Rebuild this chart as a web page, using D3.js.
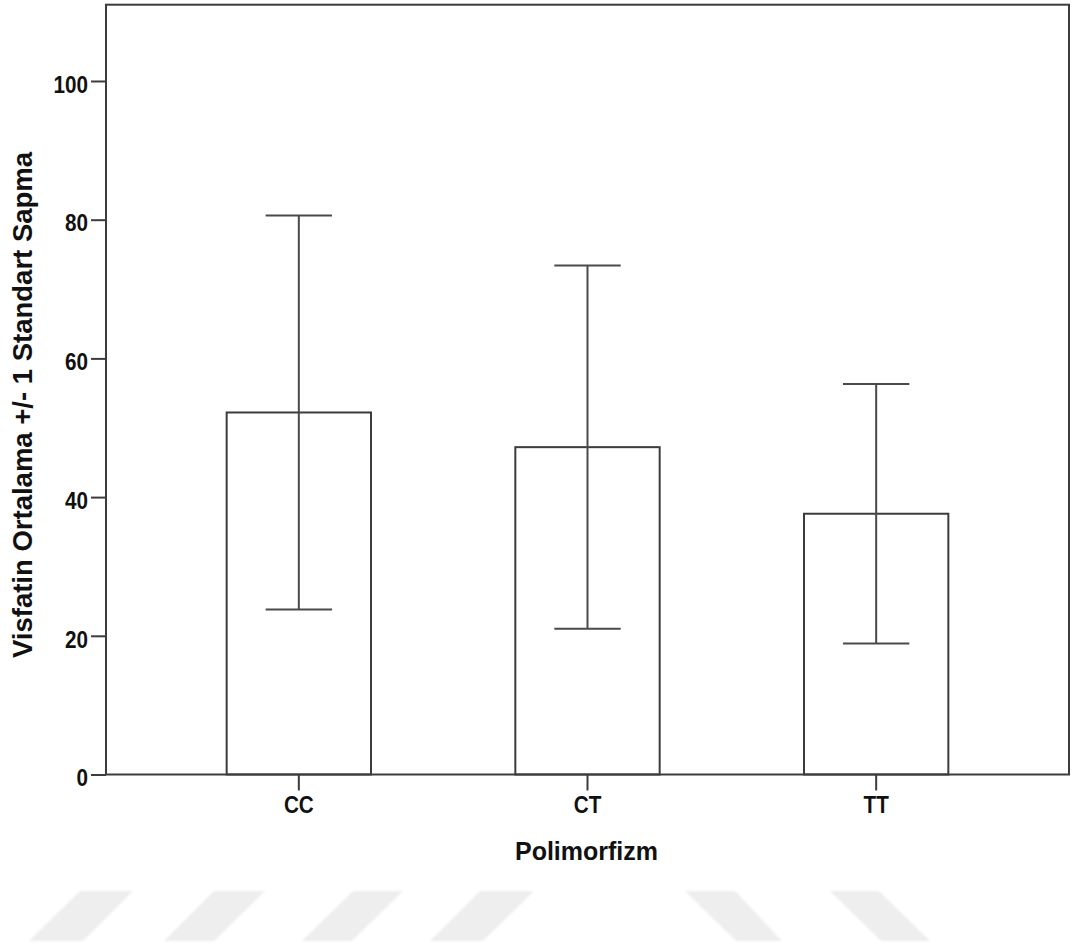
<!DOCTYPE html>
<html>
<head>
<meta charset="utf-8">
<script src="https://cdn.jsdelivr.net/npm/d3@7"></script>
<style>
  html, body { margin: 0; padding: 0; background: #fff; }
  svg { display: block; }
  .tick-num { font-family: "Liberation Sans", Arial, sans-serif; font-weight: bold; font-size: 23.5px; fill: #111; }
  .axis-title { font-family: "Liberation Sans", Arial, sans-serif; font-weight: bold; fill: #111; }
</style>
</head>
<body>
<svg id="chart" width="1074" height="950"></svg>
<script>
// Genotype groups and visfatin summary statistics (mean and one standard deviation)
const categories = ["CC", "CT", "TT"];
const means = [52.2, 47.2, 37.6];
const stdDevs = [28.4, 26.2, 18.7];
const yTicks = [0, 20, 40, 60, 80, 100];

const svg = d3.select("#chart");

// Plot frame
const frame = { left: 106, right: 1069, top: 4.7, bottom: 774.5 };

const x = d3.scaleBand()
  .domain(categories)
  .range([frame.left, frame.right])
  .paddingInner(0.5)
  .paddingOuter(0.418);

const y = d3.scaleLinear()
  .domain([0, 111])
  .range([frame.bottom, frame.top]);

const stroke = "#3c3c3c";
const squeeze = 0.88; // condensed look for tick labels

// Decorative stripes along the page foot
const stripes = [
  [[80, 891], [133, 891], [83, 941], [29, 941]],
  [[214, 891], [265, 891], [214, 941], [164, 941]],
  [[353, 891], [403, 891], [352, 941], [302, 941]],
  [[480, 891], [534, 891], [483, 941], [430, 941]],
  [[685, 891], [735, 891], [782, 941], [736, 941]],
  [[830, 891], [879, 891], [930, 941], [881, 941]]
];
const defs = svg.append("defs");
defs.append("filter").attr("id", "soft")
  .append("feGaussianBlur").attr("stdDeviation", 0.8);
svg.append("g").attr("filter", "url(#soft)")
  .selectAll("polygon").data(stripes).join("polygon")
  .attr("points", d => d.map(p => p.join(",")).join(" "))
  .attr("fill", "#eeeeee");

// Bars
svg.append("g").selectAll("rect")
  .data(categories)
  .join("rect")
  .attr("x", d => x(d))
  .attr("width", x.bandwidth())
  .attr("y", (d, i) => y(means[i]))
  .attr("height", (d, i) => y(0) - y(means[i]))
  .attr("fill", "#fff")
  .attr("stroke", stroke)
  .attr("stroke-width", 2);

// Error bars: mean ± 1 SD
const capHalf = x.bandwidth() * 0.23;
const eb = svg.append("g").attr("stroke", "#4a4a4a").attr("stroke-width", 2);
categories.forEach((c, i) => {
  const cx = x(c) + x.bandwidth() / 2;
  const hi = y(means[i] + stdDevs[i]);
  const lo = y(means[i] - stdDevs[i]);
  eb.append("line").attr("x1", cx).attr("x2", cx).attr("y1", hi).attr("y2", lo);
  eb.append("line").attr("x1", cx - capHalf).attr("x2", cx + capHalf).attr("y1", hi).attr("y2", hi);
  eb.append("line").attr("x1", cx - capHalf).attr("x2", cx + capHalf).attr("y1", lo).attr("y2", lo);
});

// Frame box
svg.append("rect")
  .attr("x", frame.left).attr("y", frame.top)
  .attr("width", frame.right - frame.left)
  .attr("height", frame.bottom - frame.top)
  .attr("fill", "none")
  .attr("stroke", stroke)
  .attr("stroke-width", 2);

// Y axis
const yAxis = svg.append("g")
  .attr("transform", `translate(${frame.left},0)`)
  .call(d3.axisLeft(y).tickValues(yTicks).tickSize(15).tickPadding(3).tickFormat(d3.format("d")));
yAxis.select(".domain").remove();
yAxis.selectAll(".tick line").attr("stroke", stroke).attr("stroke-width", 2);
yAxis.selectAll(".tick text")
  .attr("class", "tick-num")
  .attr("x", -18 / squeeze)
  .attr("transform", `scale(${squeeze},1)`)
  .attr("dy", "0.48em");

// X axis
const xAxis = svg.append("g")
  .attr("transform", `translate(0,${frame.bottom})`)
  .call(d3.axisBottom(x).tickSize(16).tickPadding(6));
xAxis.select(".domain").remove();
xAxis.selectAll(".tick line").attr("stroke", stroke).attr("stroke-width", 2);
xAxis.selectAll(".tick text")
  .attr("class", "tick-num")
  .attr("transform", `scale(${squeeze},1)`)
  .attr("dy", "0.72em");

// Axis titles
svg.append("text")
  .attr("class", "axis-title")
  .attr("x", 586.5).attr("y", 860)
  .attr("text-anchor", "middle")
  .attr("font-size", 25)
  .text("Polimorfizm");

svg.append("text")
  .attr("class", "axis-title")
  .attr("transform", "translate(31.5,405) rotate(-90)")
  .attr("text-anchor", "middle")
  .attr("font-size", 27.5)
  .text("Visfatin Ortalama +/- 1 Standart Sapma");
</script>
</body>
</html>
